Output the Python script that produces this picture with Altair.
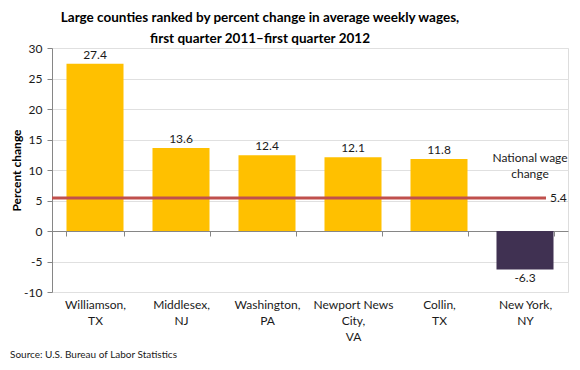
import altair as alt
import pandas as pd

counties = ["Williamson,\nTX", "Middlesex,\nNJ", "Washington,\nPA",
            "Newport News\nCity,\nVA", "Collin,\nTX", "New York,\nNY"]
changes = [27.4, 13.6, 12.4, 12.1, 11.8, -6.3]
national_change = 5.4
national_label = ["National wage", "change"]
y_ticks = [-10, -5, 0, 5, 10, 15, 20, 25, 30]
title_lines = ["Large counties ranked by percent change in average weekly wages,",
               "first quarter 2011\u2013first quarter 2012"]
source_text = "Source: U.S. Bureau of Labor Statistics"

FONT = "Lato"
W, H = 516, 244

df = pd.DataFrame({"county": counties, "change": changes})
nat = pd.DataFrame({"change": [national_change]})

x_enc = alt.X(
    "county:N", sort=counties, title=None,
    scale=alt.Scale(paddingInner=0.337, paddingOuter=0.1685),
    axis=alt.Axis(offset=-61, labelPadding=63, tickBand="extent", labelAngle=0,
                  labelExpr="split(datum.label, '\\n')", domainColor="#868686",
                  tickColor="#868686", tickSize=5, labelFontSize=12,
                  labelLineHeight=16, labelBaseline="top", labelColor="#1a1a1a",
                  labelFont=FONT, grid=False),
)
y_enc = alt.Y(
    "change:Q", scale=alt.Scale(domain=[-10, 30], nice=False),
    axis=alt.Axis(values=y_ticks, title="Percent change", titleFont=FONT,
                  titleFontSize=12, titleFontWeight="bold", titleColor="#000",
                  titleX=-36, titleBaseline="middle", titleAngle=270,
                  labelFont=FONT, labelFontSize=12,
                  labelExpr="toString(datum.value)", labelOverlap=False,
                  labelColor="#1a1a1a", labelPadding=5, tickSize=5,
                  tickColor="#868686", domainColor="#868686",
                  gridColor="#e0e0e0", gridWidth=1),
)

base = alt.Chart(df).transform_calculate(lbl="toString(datum.change)")
bars = base.mark_bar().encode(
    x=x_enc, y=y_enc,
    color=alt.condition("datum.change < 0", alt.value("#403152"), alt.value("#FFC000")),
)
pos_labels = base.transform_filter("datum.change >= 0").mark_text(
    baseline="bottom", dy=-2, font=FONT, fontSize=12, color="#1a1a1a"
).encode(x=x_enc, y=y_enc, text="lbl:N")
neg_labels = base.transform_filter("datum.change < 0").mark_text(
    baseline="top", dy=4, font=FONT, fontSize=12, color="#1a1a1a"
).encode(x=x_enc, y=y_enc, text="lbl:N")

nat_base = alt.Chart(nat).transform_calculate(lbl="toString(datum.change)")
nat_rule = nat_base.mark_rule(color="#C0504D", strokeWidth=3).encode(
    y=y_enc, x=alt.value(0), x2=alt.value(494)
)
nat_value = nat_base.mark_text(align="left", baseline="middle", font=FONT,
                               fontSize=12, color="#1a1a1a").encode(
    y=y_enc, x=alt.value(498), text="lbl:N"
)
nat_text = nat_base.mark_text(align="center", baseline="middle", font=FONT,
                              fontSize=12, color="#1a1a1a", lineHeight=16).encode(
    y=alt.value(110), x=alt.value(478), text=alt.value(national_label)
)
source = nat_base.mark_text(align="left", baseline="middle", font=FONT, fontSize=10,
                            color="#1a1a1a").encode(
    x=alt.value(-42), y=alt.value(307), text=alt.value(source_text)
)

chart = alt.layer(bars, pos_labels, neg_labels, nat_rule, nat_value, nat_text, source).properties(
    width=W, height=H,
    title=alt.Title(title_lines, font=FONT, fontSize=13.5, fontWeight="bold", color="#000",
                    anchor="middle", dx=-50, offset=-3, lineHeight=21),
    autosize=alt.AutoSizeParams(type="none"),
    padding={"left": 44, "top": 40, "right": 4, "bottom": 70},
).configure_view(stroke=None).configure(background="white")

chart.save("out.html", embed_options={"renderer": "svg", "actions": False})
